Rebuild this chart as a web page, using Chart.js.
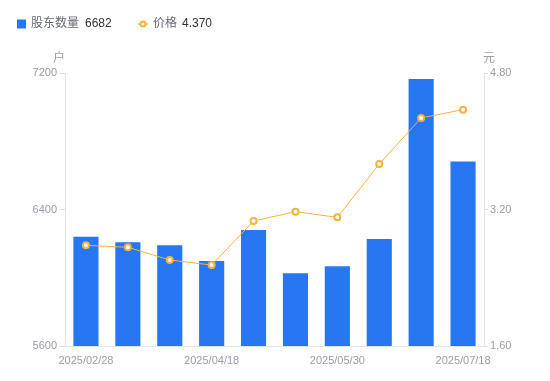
<!DOCTYPE html>
<html>
<head>
<meta charset="utf-8">
<script src="https://cdn.jsdelivr.net/npm/chart.js@4/dist/chart.umd.min.js"></script>
<style>
html,body{margin:0;padding:0;background:#fff;}
#wrap{position:relative;width:550px;height:381px;}
</style>
</head>
<body>
<div id="wrap"><canvas id="c" width="550" height="381"></canvas></div>
<script>
const categories = ['2025/02/28','2025/03/10','2025/03/31','2025/04/18','2025/04/30','2025/05/20','2025/05/30','2025/06/20','2025/06/30','2025/07/18'];
const holders = [6240, 6208, 6190, 6098, 6280, 6026, 6067, 6227, 7165, 6682];
const prices = [2.78, 2.757, 2.608, 2.549, 3.065, 3.175, 3.108, 3.733, 4.273, 4.370];
const leftTicks = [5600, 6400, 7200];
const rightTicks = [1.60, 3.20, 4.80];
const seriesNames = ['股东数量', '价格'];
const unitLeft = '户';
const unitRight = '元';

const BLUE = '#2677f1';
const ORANGE = '#f7b23b';
const FONT = '"Liberation Sans", Arial, "Noto Sans CJK SC", sans-serif';

const extras = {
  id: 'extras',
  afterDraw(chart) {
    const ctx = chart.ctx;
    const yl = chart.scales.y, yr = chart.scales.y1;
    ctx.save();
    // axis units
    ctx.font = '12px ' + FONT;
    ctx.fillStyle = '#9a9cab';
    ctx.textAlign = 'center';
    ctx.textBaseline = 'middle';
    ctx.fillText(unitLeft, yl.right - 6, chart.chartArea.top - 14);
    ctx.fillText(unitRight, yr.left + 5, chart.chartArea.top - 14);
    // legend
    const ly = 24;
    ctx.fillStyle = BLUE;
    ctx.fillRect(17, ly - 4.5, 9, 9);
    ctx.font = '12px ' + FONT;
    ctx.textAlign = 'left';
    ctx.fillStyle = '#666a75';
    ctx.fillText(seriesNames[0], 31, ly);
    ctx.fillStyle = '#333';
    ctx.fillText(String(holders[holders.length-1]), 85, ly);
    ctx.strokeStyle = ORANGE;
    ctx.lineWidth = 1.5;
    ctx.beginPath(); ctx.moveTo(138, ly); ctx.lineTo(148, ly); ctx.stroke();
    ctx.fillStyle = '#fff';
    ctx.lineWidth = 2;
    ctx.beginPath(); ctx.arc(143, ly, 2.5, 0, Math.PI*2); ctx.fill(); ctx.stroke();
    ctx.fillStyle = '#666a75';
    ctx.fillText(seriesNames[1], 153, ly);
    ctx.fillStyle = '#333';
    ctx.fillText(prices[prices.length-1].toFixed(3), 182, ly);
    ctx.restore();
  }
};

new Chart(document.getElementById('c'), {
  type: 'bar',
  data: {
    labels: categories,
    datasets: [
      {
        type: 'line',
        label: seriesNames[1],
        data: prices,
        yAxisID: 'y1',
        borderColor: ORANGE,
        borderWidth: 1,
        pointRadius: 3,
        pointBorderWidth: 2,
        pointBackgroundColor: '#fff',
        pointBorderColor: ORANGE,
        tension: 0,
        order: 0
      },
      {
        type: 'bar',
        label: seriesNames[0],
        data: holders,
        yAxisID: 'y',
        backgroundColor: BLUE,
        barPercentage: 0.6,
        categoryPercentage: 1.0,
        order: 1
      }
    ]
  },
  options: {
    responsive: false,
    animation: false,
    layout: { padding: { top: 73, left: 0, right: 0, bottom: 0 } },
    plugins: { legend: { display: false }, tooltip: { enabled: false } },
    scales: {
      x: {
        grid: { display: false },
        border: { display: true, color: '#e3e3e8' },
        ticks: {
          autoSkip: false, maxRotation: 0, padding: 0,
          color: '#9a9cab', font: { size: 11, family: FONT },
          callback: function(v, i) { return i % 3 === 0 ? categories[i] : ''; }
        },
        afterFit(s) { s.height = 35; }
      },
      y: {
        position: 'left',
        min: 5600, max: 7200,
        afterBuildTicks(s) { s.ticks = leftTicks.map(v => ({ value: v })); },
        grid: { drawOnChartArea: false, drawTicks: true, tickLength: 5, tickColor: '#dcdce2' },
        border: { display: true, color: '#e3e3e8' },
        ticks: { padding: 3, color: '#9a9cab', font: { size: 11, family: FONT },
          callback: v => String(v) },
        afterFit(s) { s.width = 65; }
      },
      y1: {
        position: 'right',
        min: 1.6, max: 4.8,
        afterBuildTicks(s) { s.ticks = rightTicks.map(v => ({ value: v })); },
        grid: { drawOnChartArea: false, drawTicks: true, tickLength: 4, tickColor: '#dcdce2' },
        border: { display: true, color: '#e3e3e8' },
        ticks: { padding: 2, color: '#9a9cab', font: { size: 11, family: FONT },
          callback: v => Number(v).toFixed(2) },
        afterFit(s) { s.width = 66; }
      }
    }
  },
  plugins: [extras]
});
</script>
</body>
</html>
